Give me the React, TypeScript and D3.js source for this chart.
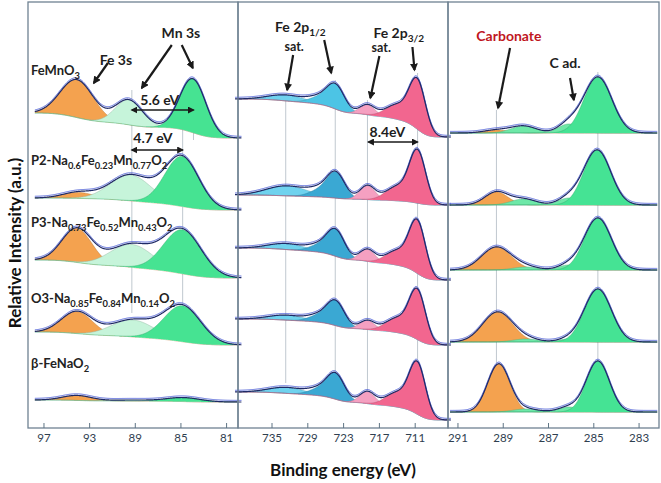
import React from "react";
import * as d3 from "d3";

const WIDTH = 661;
const HEIGHT = 483;
const PLOT_TOP = 2;
const PLOT_BOTTOM = 428;
const PANEL_X: [number, number][] = [[28, 238], [238, 448], [448, 659]];
const FONT = "Lato, 'Open Sans', sans-serif";

// ---- tick labels ----
const mnTicks = [97, 93, 89, 85, 81];
const feTicks = [735, 729, 723, 717, 711];
const cTicks = [291, 289, 287, 285, 283];

// ---- binding-energy domains (left edge, right edge) ----
const mnDomain = [98.4, 80.0];
const feDomain = [740.7, 705.5];
const cDomain = [291.44, 282.12];

// ---- measured energy ranges ----
const mnRange = [97.8, 79.7];
const feRange = [741.2, 705.0];
const cRange = [291.35, 282.2];

const intensityDomain = [0, 426];

// ---- sample labels (text, subscript?) ----
const sampleLabels: [string, boolean][][] = [
  [["FeMnO", false], ["3", true]],
  [["P2-Na", false], ["0.6", true], ["Fe", false], ["0.23", true], ["Mn", false], ["0.77", true], ["O", false], ["2", true]],
  [["P3-Na", false], ["0.73", true], ["Fe", false], ["0.52", true], ["Mn", false], ["0.43", true], ["O", false], ["2", true]],
  [["O3-Na", false], ["0.85", true], ["Fe", false], ["0.84", true], ["Mn", false], ["0.14", true], ["O", false], ["2", true]],
  [["β-FeNaO", false], ["2", true]],
];
const sampleLabelLevels = [353, 263, 201, 125, 60];

// ---- Mn 3s / Fe 3s region ----
const mnComponents = ["Fe 3s", "Mn 3s (high BE)", "Mn 3s (low BE)"];
const mnColors = ["#f4a24f", "#c6f4da", "#46e392"];
const mnBackground = [[315, 290], [230, 218], [168, 150], [96, 83], [28, 26]];
const mnPeaks = [
  [[0, 94.1, 38, 3.4], [1, 89.55, 25, 2.8], [2, 83.95, 54, 2.7]],
  [[0, 94.0, 6, 3.2], [1, 89.4, 26, 4.2], [2, 84.9, 50, 3.5]],
  [[0, 94.1, 34, 3.1], [1, 89.3, 23, 4.4], [2, 84.85, 44, 3.9]],
  [[0, 94.1, 22, 3.2], [1, 89.2, 17, 4.4], [2, 84.85, 36, 3.8]],
  [[0, 94.1, 5, 3.0], [1, 89.3, 1, 4.0], [2, 84.8, 4, 3.5]],
];

// ---- Fe 2p region ----
const feComponents = ["Fe 2p1/2 sat.", "Fe 2p1/2", "Fe 2p3/2 sat.", "Fe 2p3/2"];
const feColors = ["#6fd2ee", "#3aa8d3", "#f5a0c1", "#f2668f"];
const feColorsFirst = ["#6fd2ee", "#4cc4e5", "#f5a0c1", "#f2668f"];
const feBackground = [[329, 291], [233, 223], [180, 148], [109, 83], [36, 8]];
const fePeaks = [
  [[0, 732.5, 6, 7], [1, 724.3, 24, 3.5], [1, 727.2, 6, 4], [2, 719.0, 10, 3], [3, 710.6, 48, 3.2], [3, 714.0, 14, 4.5]],
  [[0, 732.5, 10, 8], [1, 724.3, 25, 3.5], [1, 727.2, 6, 4], [2, 719.0, 14, 3], [3, 710.6, 51, 3.2], [3, 714.0, 14, 4.5]],
  [[0, 732.5, 6, 7], [1, 724.3, 26, 3.5], [1, 727.2, 6, 4], [2, 719.0, 12, 3], [3, 710.6, 51, 3.2], [3, 714.0, 14, 4.5]],
  [[0, 732.5, 5, 7], [1, 724.3, 24, 3.5], [1, 727.2, 6, 4], [2, 719.0, 9, 3], [3, 710.6, 48, 3.2], [3, 714.0, 14, 4.5]],
  [[0, 732.5, 6, 7], [1, 724.3, 25, 3.5], [1, 727.2, 6, 4], [2, 719.0, 12, 3], [3, 710.6, 50, 3.2], [3, 714.0, 14, 4.5]],
];

// ---- C 1s region ----
const cComponents = ["Carbonate", "C–O", "C ad.", "C–C"];
const cColors = ["#f4a24f", "#6ee8a8", "#6ee8a8", "#45e394"];
const cBackground = [[295, 295], [223, 223], [158, 158], [86, 86], [16, 16]];
const cPeaks = [
  [[0, 289.3, 3, 1.3], [1, 288.1, 7, 1.3], [2, 286.1, 9, 1.1], [3, 284.82, 56, 1.45]],
  [[0, 289.3, 13, 1.2], [1, 288.1, 6, 1.3], [2, 286.1, 7, 1.1], [3, 284.85, 55, 1.4]],
  [[0, 289.3, 23, 1.55], [1, 288.0, 3, 1.3], [2, 286.1, 5, 1.1], [3, 284.82, 52, 1.4]],
  [[0, 289.25, 30, 1.55], [1, 288.0, 3, 1.3], [2, 286.1, 3, 1.1], [3, 284.82, 53, 1.4]],
  [[0, 289.2, 48, 1.15], [1, 288.0, 3, 1.3], [2, 286.1, 5, 1.1], [3, 284.82, 51, 1.2]],
];

// ---- guide lines [energy, top, bottom] ----
const mnGuides = [[89.3, 338, 115], [84.85, 311, 123], [83.9, 348, 288]];
const feGuides = [[732.7, 331, 45], [724.4, 348, 56], [719.0, 328, 38], [710.6, 355, 68]];
const cGuides = [[289.3, 318, 48], [284.82, 356, 58]];

// ---- annotations: [segments, energy, level, anchor, color, size] ----
type Seg = [string, boolean];
type Txt = [Seg[], number, number, string, string, number];
const mnTexts: Txt[] = [
  [[["Fe 3s", false]], 90.7, 363, "middle", "#1e1e1e", 14],
  [[["Mn 3s", false]], 85.0, 390, "middle", "#1e1e1e", 14],
  [[["5.6 eV", false]], 86.85, 323, "middle", "#1e1e1e", 14],
  [[["4.7 eV", false]], 87.46, 285, "middle", "#1e1e1e", 14],
];
const feTexts: Txt[] = [
  [[["Fe 2p", false], ["1/2", true]], 734.5, 396, "start", "#1e1e1e", 14],
  [[["sat.", false]], 731.3, 377, "middle", "#1e1e1e", 12.5],
  [[["Fe 2p", false], ["3/2", true]], 718.0, 390, "start", "#1e1e1e", 14],
  [[["sat.", false]], 716.7, 376, "middle", "#1e1e1e", 12.5],
  [[["8.4eV", false]], 715.66, 291, "middle", "#1e1e1e", 14],
];
const cTexts: Txt[] = [
  [[["Carbonate", false]], 288.75, 387, "middle", "#c0161e", 14],
  [[["C ad.", false]], 286.27, 360, "middle", "#1e1e1e", 14],
];

// arrows [E1, v1, E2, v2, double]
const mnArrows = [
  [91.4, 365, 92.63, 345, 0],
  [85.8, 383, 88.43, 340, 0],
  [84.93, 383, 83.96, 360, 0],
  [89.3, 318, 83.9, 318, 1],
  [89.3, 278, 84.84, 278, 1],
];
const feArrows = [
  [731.46, 373, 732.46, 338, 0],
  [726.25, 388, 725.07, 355, 0],
  [717.0, 372, 718.52, 330, 0],
  [711.46, 381, 711.12, 358, 0],
  [718.85, 286, 710.62, 286, 1],
];
const cArrows = [
  [288.7, 380, 289.23, 320, 0],
  [286.05, 350, 285.88, 328, 0],
];

const yScale = d3.scaleLinear().domain(intensityDomain).range([PLOT_BOTTOM, PLOT_TOP]);

interface Pt { E: number; base: number; comp: number[]; total: number }

function buildCurves(range: number[], bg: number[], peaks: number[][], nComp: number): Pt[] {
  const lo = Math.min(range[0], range[1]);
  const hi = Math.max(range[0], range[1]);
  const N = 600;
  const Es = d3.range(N + 1).map((i) => lo + ((hi - lo) * i) / N);
  const comp = Es.map((E) => {
    const c = new Array(nComp).fill(0);
    for (const [k, ctr, h, fw] of peaks) {
      const s = fw / 2.3548;
      c[k] += h * Math.exp(-0.5 * ((E - ctr) / s) ** 2);
    }
    return c;
  });
  const tot = comp.map((c) => d3.sum(c));
  const cum = [0];
  for (let i = 1; i <= N; i++) cum[i] = cum[i - 1] + ((tot[i] + tot[i - 1]) / 2) * (Es[i] - Es[i - 1]);
  const A = cum[N] || 1;
  const [bHigh, bLow] = bg;
  return Es.map((E, i) => ({ E, base: bLow + ((bHigh - bLow) * cum[i]) / A, comp: comp[i], total: tot[i] }));
}

function darker(c: string) {
  const col = d3.color(c);
  return col ? col.darker(0.8).formatHex() : c;
}

function renderSegs(segs: Seg[], size: number) {
  const out: React.ReactNode[] = [];
  let shifted = false;
  segs.forEach(([t, sub], i) => {
    if (sub && !shifted) {
      out.push(<tspan key={i} dy={3.5} fontSize={size * 0.72}>{t}</tspan>);
      shifted = true;
    } else if (!sub && shifted) {
      out.push(<tspan key={i} dy={-3.5} fontSize={size}>{t}</tspan>);
      shifted = false;
    } else {
      out.push(<tspan key={i} fontSize={sub ? size * 0.72 : size}>{t}</tspan>);
    }
  });
  return out;
}

interface PanelDef {
  x: [number, number];
  domain: number[];
  range: number[];
  ticks: number[];
  colors: string[][];
  bgs: number[][];
  peaks: number[][][];
  nComp: number;
  guides: number[][];
  texts: Txt[];
  arrows: number[][];
}

const panels: PanelDef[] = [
  { x: PANEL_X[0], domain: mnDomain, range: mnRange, ticks: mnTicks, colors: mnPeaks.map(() => mnColors), bgs: mnBackground, peaks: mnPeaks, nComp: mnComponents.length, guides: mnGuides, texts: mnTexts, arrows: mnArrows },
  { x: PANEL_X[1], domain: feDomain, range: feRange, ticks: feTicks, colors: fePeaks.map((_, i) => (i === 0 ? feColorsFirst : feColors)), bgs: feBackground, peaks: fePeaks, nComp: feComponents.length, guides: feGuides, texts: feTexts, arrows: feArrows },
  { x: PANEL_X[2], domain: cDomain, range: cRange, ticks: cTicks, colors: cPeaks.map(() => cColors), bgs: cBackground, peaks: cPeaks, nComp: cComponents.length, guides: cGuides, texts: cTexts, arrows: cArrows },
];

export default function App() {
  return (
    <svg width={WIDTH} height={HEIGHT} viewBox={`0 0 ${WIDTH} ${HEIGHT}`} style={{ display: "block", position: "absolute", left: 0, top: 0, background: "#fff" }} fontFamily={FONT}>
      <defs>
        <marker id="ahThick" viewBox="0 0 10 10" refX="8" refY="5" markerWidth="3.6" markerHeight="3.6" orient="auto-start-reverse">
          <path d="M0,0 L10,5 L0,10 z" fill="#1a1a1a" />
        </marker>
        <marker id="ahThin" viewBox="0 0 10 10" refX="8" refY="5" markerWidth="5" markerHeight="5" orient="auto-start-reverse">
          <path d="M0,0 L10,5 L0,10 z" fill="#1a1a1a" />
        </marker>
        {panels.map((p, i) => (
          <clipPath id={`clip${i}`} key={i}>
            <rect x={p.x[0]} y={PLOT_TOP} width={p.x[1] - p.x[0]} height={PLOT_BOTTOM - PLOT_TOP} />
          </clipPath>
        ))}
      </defs>
      <rect x={0} y={0} width={WIDTH} height={HEIGHT} fill="#fff" />
      {panels.map((p, pi) => {
        const xs = d3.scaleLinear().domain(p.domain).range(p.x);
        const spectra = p.peaks.map((pk, si) => buildCurves(p.range, p.bgs[si], pk, p.nComp));
        return (
          <g key={pi}>
            {p.guides.map(([E, top, bot], gi) => (
              <line key={gi} x1={xs(E)} x2={xs(E)} y1={yScale(top)} y2={yScale(bot)} stroke="#b9c2ca" strokeWidth={0.9} />
            ))}
            {spectra.map((pts, si) => {
              const envelope = d3.line<Pt>().x((d) => xs(d.E)).y((d) => yScale(d.base + d.total));
              return (
                <g key={si}>
                  <g clipPath={`url(#clip${pi})`}>
                    {d3.range(p.nComp).map((k) => {
                      const area = d3.area<Pt>().x((d) => xs(d.E)).y0((d) => yScale(d.base)).y1((d) => yScale(d.base + d.comp[k]));
                      const top = d3.line<Pt>().x((d) => xs(d.E)).y((d) => yScale(d.base + d.comp[k]));
                      return (
                        <g key={k}>
                          <path d={area(pts) || ""} fill={p.colors[si][k]} />
                          <path d={top(pts) || ""} fill="none" stroke={darker(p.colors[si][k])} strokeWidth={0.7} strokeOpacity={0.7} />
                        </g>
                      );
                    })}
                  </g>
                  <path d={envelope(pts) || ""} fill="none" stroke="#4d5fd8" strokeWidth={1} transform="translate(0,-1.6)" />
                  <path d={envelope(pts) || ""} fill="none" stroke="#1f2a66" strokeWidth={1.2} />
                </g>
              );
            })}
            <rect x={p.x[0]} y={PLOT_TOP} width={p.x[1] - p.x[0]} height={PLOT_BOTTOM - PLOT_TOP} fill="none" stroke="#6f8292" strokeWidth={1.3} />
            {p.ticks.map((t) => (
              <g key={t}>
                <line x1={xs(t)} x2={xs(t)} y1={PLOT_BOTTOM} y2={PLOT_BOTTOM - 5} stroke="#5f7585" strokeWidth={1} />
                <text x={xs(t)} y={442} textAnchor="middle" fontSize={11.5} fill="#2f4050">{t}</text>
              </g>
            ))}
            {p.arrows.map(([E1, v1, E2, v2, dbl], ai) => (
              <line key={ai} x1={xs(E1)} y1={yScale(v1)} x2={xs(E2)} y2={yScale(v2)} stroke="#1a1a1a"
                strokeWidth={dbl ? 1.4 : 2.2}
                markerEnd={dbl ? "url(#ahThin)" : "url(#ahThick)"}
                markerStart={dbl ? "url(#ahThin)" : undefined} />
            ))}
            {p.texts.map(([segs, E, v, anchor, color, size], ti) => (
              <text key={ti} x={xs(E)} y={yScale(v)} textAnchor={anchor} fill={color} fontWeight={700} fontSize={size}>
                {renderSegs(segs, size)}
              </text>
            ))}
          </g>
        );
      })}
      {sampleLabels.map((segs, i) => (
        <text key={i} x={PANEL_X[0][0] + 3} y={yScale(sampleLabelLevels[i])} fontSize={13} fontWeight={700} fill="#222">
          {renderSegs(segs, 13)}
        </text>
      ))}
      <text x={343} y={476} textAnchor="middle" fontSize={17} fontWeight={700} fill="#111">Binding energy (eV)</text>
      <text transform="translate(21,243) rotate(-90)" textAnchor="middle" fontSize={17} fontWeight={700} fill="#111">Relative Intensity (a.u.)</text>
    </svg>
  );
}
